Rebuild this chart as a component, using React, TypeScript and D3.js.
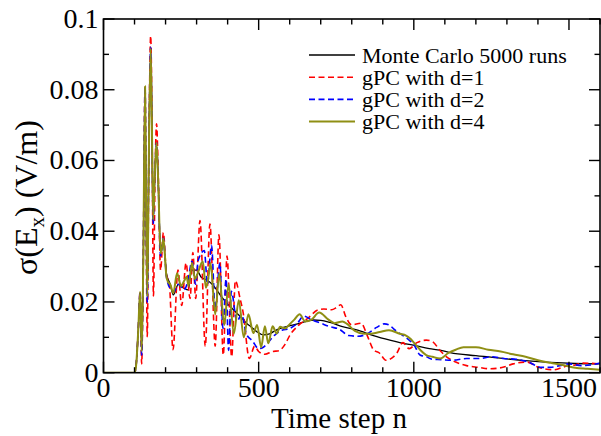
import React from "react";
import * as d3 from "d3";

// ---- data (time step n, sigma(Ex) in V/m) ----
const mcData: [number, number][] = [
  [0, 0], [100, 0], [105, 0.002], [112, 0.012], [118, 0.0225], [123, 0.007], [128, 0.03], [134, 0.08],
  [137, 0.05], [141, 0.022], [146, 0.06], [152, 0.091], [156, 0.07], [160, 0.044], [165, 0.055],
  [171, 0.064], [176, 0.055], [184, 0.034], [193, 0.037], [203, 0.028], [215, 0.025], [225, 0.022],
  [241, 0.025], [258, 0.024], [273, 0.0234], [284, 0.029], [300, 0.029], [315, 0.027], [333, 0.0262],
  [350, 0.025], [365, 0.0234], [380, 0.0215], [397, 0.0197], [413, 0.0183], [429, 0.0169], [445, 0.0155],
  [461, 0.014], [478, 0.0128], [494, 0.0116], [515, 0.0107], [535, 0.011], [558, 0.0121], [580, 0.0128],
  [601, 0.0133], [633, 0.014], [676, 0.0149], [700, 0.0148], [730, 0.0142], [770, 0.013], [816, 0.0121],
  [870, 0.0105], [923, 0.0092], [955, 0.0085], [998, 0.0078], [1050, 0.0068], [1084, 0.0064],
  [1117, 0.0057], [1200, 0.0048], [1278, 0.0041], [1360, 0.0034], [1439, 0.0029], [1520, 0.0026],
  [1600, 0.0025],
];

const gpc1Data: [number, number][] = [
  [0, 0], [100, 0], [105, 0.002], [112, 0.012], [118, 0.023], [123, 0.0025], [128, 0.03], [134, 0.081],
  [137, 0.05], [141, 0.0102], [146, 0.06], [152, 0.0952], [156, 0.075], [161, 0.0217], [166, 0.055],
  [171, 0.0704], [176, 0.058], [184, 0.029], [193, 0.0396], [203, 0.0275], [212, 0.0253], [224, 0.0065],
  [240, 0.029], [252, 0.019], [266, 0.031], [279, 0.021], [288, 0.034], [297, 0.021], [311, 0.043],
  [328, 0.0075], [343, 0.042], [360, 0.0075], [372, 0.039], [386, 0.005], [398, 0.033], [413, 0.0045],
  [425, 0.026], [440, 0.021], [450, 0.017], [470, 0.004], [487, 0.0075], [500, 0.006], [520, 0.0052],
  [545, 0.006], [565, 0.0062], [585, 0.008], [600, 0.0105], [630, 0.0135], [660, 0.0155], [690, 0.0177],
  [710, 0.018], [735, 0.0178], [752, 0.0185], [765, 0.0192], [780, 0.016], [800, 0.0135], [830, 0.014],
  [850, 0.0105], [870, 0.0065], [890, 0.0055], [910, 0.0035], [930, 0.0042], [945, 0.0055], [965, 0.0085],
  [985, 0.0068], [1010, 0.0085], [1040, 0.0092], [1060, 0.0088], [1085, 0.0062], [1110, 0.0042],
  [1135, 0.003], [1170, 0.002], [1210, 0.0015], [1245, 0.0011], [1290, 0.0016], [1320, 0.0025],
  [1365, 0.003], [1400, 0.0016], [1450, 0.0008], [1490, 0.0018], [1520, 0.0022], [1545, 0.0027],
  [1600, 0.0025],
];

const gpc2Data: [number, number][] = [
  [0, 0], [100, 0], [105, 0.002], [112, 0.012], [118, 0.0229], [123, 0.005], [128, 0.03], [134, 0.081],
  [137, 0.05], [141, 0.02], [146, 0.06], [152, 0.092], [156, 0.07], [160, 0.042], [165, 0.055],
  [171, 0.065], [176, 0.055], [184, 0.033], [193, 0.038], [203, 0.027], [215, 0.0238], [228, 0.023],
  [241, 0.025], [260, 0.0235], [272, 0.026], [285, 0.0315], [297, 0.025], [305, 0.0317], [325, 0.0345],
  [335, 0.025], [348, 0.036], [360, 0.018], [375, 0.031], [385, 0.0125], [395, 0.0265], [403, 0.0063],
  [412, 0.023], [430, 0.0145], [445, 0.0165], [460, 0.011], [480, 0.009], [500, 0.0068], [515, 0.0072],
  [530, 0.0085], [550, 0.0105], [575, 0.012], [600, 0.0125], [625, 0.014], [645, 0.016], [670, 0.015],
  [700, 0.014], [730, 0.013], [760, 0.0123], [790, 0.0105], [820, 0.0103], [850, 0.011], [880, 0.0128],
  [905, 0.0138], [920, 0.0135], [940, 0.012], [965, 0.0105], [985, 0.0092], [1000, 0.008], [1020, 0.005],
  [1040, 0.0045], [1060, 0.0038], [1090, 0.0037], [1120, 0.0035], [1170, 0.004], [1210, 0.004],
  [1250, 0.0045], [1290, 0.004], [1330, 0.0038], [1370, 0.003], [1410, 0.0015], [1440, 0.0015],
  [1470, 0.002], [1500, 0.0025], [1540, 0.002], [1570, 0.0022], [1600, 0.0027],
];

const gpc4Data: [number, number][] = [
  [0, 0], [100, 0], [105, 0.002], [112, 0.012], [118, 0.0229], [123, 0.006], [128, 0.03], [134, 0.081],
  [137, 0.05], [141, 0.0215], [146, 0.06], [152, 0.0917], [156, 0.07], [160, 0.0432], [165, 0.055],
  [171, 0.065], [176, 0.055], [184, 0.0338], [188, 0.035], [193, 0.0379], [198, 0.033], [203, 0.027],
  [209, 0.0255], [215, 0.025], [225, 0.0225], [237, 0.0281], [250, 0.0245], [260, 0.026], [268, 0.0271],
  [274, 0.0245], [285, 0.031], [295, 0.0265], [305, 0.0285], [320, 0.0315], [330, 0.024], [338, 0.027],
  [345, 0.031], [360, 0.0165], [373, 0.028], [389, 0.0135], [403, 0.025], [420, 0.011], [436, 0.0205],
  [452, 0.01], [467, 0.0165], [483, 0.0112], [495, 0.0135], [508, 0.0072], [520, 0.0131], [531, 0.0083],
  [545, 0.0131], [558, 0.0111], [569, 0.013], [585, 0.0125], [601, 0.0138], [615, 0.015], [632, 0.0165],
  [650, 0.0145], [670, 0.015], [695, 0.017], [725, 0.015], [745, 0.014], [770, 0.0145], [785, 0.0138],
  [810, 0.0118], [840, 0.011], [860, 0.011], [890, 0.0115], [920, 0.012], [955, 0.011], [975, 0.0105],
  [990, 0.0095], [1005, 0.008], [1020, 0.0065], [1040, 0.005], [1060, 0.0045], [1085, 0.004],
  [1110, 0.0055], [1135, 0.0065], [1160, 0.0072], [1200, 0.0072], [1240, 0.0065], [1280, 0.006],
  [1320, 0.0052], [1360, 0.0045], [1400, 0.0035], [1440, 0.0028], [1480, 0.0022], [1520, 0.0014],
  [1560, 0.0011], [1600, 0.0008],
];

const xMajorTicks = [0, 500, 1000, 1500];
const xTickLabels = ["0", "500", "1000", "1500"];
const yMajorTicks = [0, 0.02, 0.04, 0.06, 0.08, 0.1];
const yTickLabels = ["0", "0.02", "0.04", "0.06", "0.08", "0.1"];
const legendLabels = ["Monte Carlo 5000 runs", "gPC with d=1", "gPC with d=2", "gPC with d=4"];

const OLIVE = "#8f8f14";
const FONT = "Liberation Serif, Times New Roman, serif";

export default function App() {
  const W = 601, H = 436;
  const left = 103.5, right = 600, top = 19, bottom = 372.7;
  const x = d3.scaleLinear().domain([0, 1600]).range([left, right]);
  const y = d3.scaleLinear().domain([0, 0.1]).range([bottom, top]);

  const line = d3
    .line<[number, number]>()
    .x((d) => x(d[0]))
    .y((d) => y(d[1]))
    .curve(d3.curveMonotoneX);

  const xMinor = d3.range(0, 1601, 100).filter((v) => v % 500 !== 0);
  const yMinor = [0.01, 0.03, 0.05, 0.07, 0.09];
  const majorLen = 11, minorLen = 5.5;

  const series = [
    { data: mcData, color: "#000", dash: undefined, width: 1.3 },
    { data: gpc1Data, color: "#ff0000", dash: "6,3.5", width: 1.6 },
    { data: gpc2Data, color: "#0000ff", dash: "6,3.5", width: 1.6 },
    { data: gpc4Data, color: OLIVE, dash: undefined, width: 2 },
  ];

  return (
    <svg
      width={W}
      height={H}
      style={{ position: "absolute", left: 0, top: 0, background: "#fff", fontFamily: FONT }}
    >
      <defs>
        <clipPath id="plotClip">
          <rect x={left} y={top - 2} width={right - left} height={bottom - top + 2} />
        </clipPath>
      </defs>
      <g clipPath="url(#plotClip)">
        {series.map((s, i) => (
          <path
            key={i}
            d={line(s.data) || ""}
            fill="none"
            stroke={s.color}
            strokeWidth={s.width}
            strokeDasharray={s.dash}
            strokeLinejoin="round"
          />
        ))}
      </g>

      {/* frame */}
      <rect x={left} y={top} width={right - left} height={bottom - top} fill="none" stroke="#000" strokeWidth={1.6} />

      {/* x ticks */}
      {xMajorTicks.map((t) => (
        <g key={"xm" + t}>
          <line x1={x(t)} x2={x(t)} y1={bottom} y2={bottom - majorLen} stroke="#000" strokeWidth={1.4} />
          <line x1={x(t)} x2={x(t)} y1={top} y2={top + majorLen} stroke="#000" strokeWidth={1.4} />
        </g>
      ))}
      {xMinor.map((t) => (
        <g key={"xn" + t}>
          <line x1={x(t)} x2={x(t)} y1={bottom} y2={bottom - minorLen} stroke="#000" strokeWidth={1.4} />
          <line x1={x(t)} x2={x(t)} y1={top} y2={top + minorLen} stroke="#000" strokeWidth={1.4} />
        </g>
      ))}
      {/* y ticks */}
      {yMajorTicks.map((t) => (
        <g key={"ym" + t}>
          <line x1={left} x2={left + majorLen} y1={y(t)} y2={y(t)} stroke="#000" strokeWidth={1.4} />
          <line x1={right} x2={right - majorLen} y1={y(t)} y2={y(t)} stroke="#000" strokeWidth={1.4} />
        </g>
      ))}
      {yMinor.map((t) => (
        <g key={"yn" + t}>
          <line x1={left} x2={left + minorLen} y1={y(t)} y2={y(t)} stroke="#000" strokeWidth={1.4} />
          <line x1={right} x2={right - minorLen} y1={y(t)} y2={y(t)} stroke="#000" strokeWidth={1.4} />
        </g>
      ))}

      {/* tick labels */}
      {xMajorTicks.map((t, i) => (
        <text key={"xl" + t} x={x(t)} y={396.5} textAnchor="middle" fontSize={28} fill="#000">
          {xTickLabels[i]}
        </text>
      ))}
      {yMajorTicks.map((t, i) => (
        <text key={"yl" + t} x={98.5} y={y(t) + 9} textAnchor="end" fontSize={28} fill="#000">
          {yTickLabels[i]}
        </text>
      ))}

      {/* axis titles */}
      <text x={339} y={428} textAnchor="middle" fontSize={29} fill="#000">
        Time step n
      </text>
      <text transform="translate(37,197.5) rotate(-90)" textAnchor="middle" fontSize={32} fill="#000">
        σ(E<tspan dy={7} fontSize={21}>x</tspan>
        <tspan dy={-7}>) (V/m)</tspan>
      </text>

      {/* legend */}
      {legendLabels.map((lab, i) => {
        const ly = 55 + i * 22.2;
        const s = series[i];
        return (
          <g key={"lg" + i}>
            <line x1={309} x2={355} y1={ly} y2={ly} stroke={s.color} strokeWidth={s.width} strokeDasharray={s.dash} />
            <text x={362} y={ly + 7.5} fontSize={22} fill="#000">
              {lab}
            </text>
          </g>
        );
      })}
    </svg>
  );
}
